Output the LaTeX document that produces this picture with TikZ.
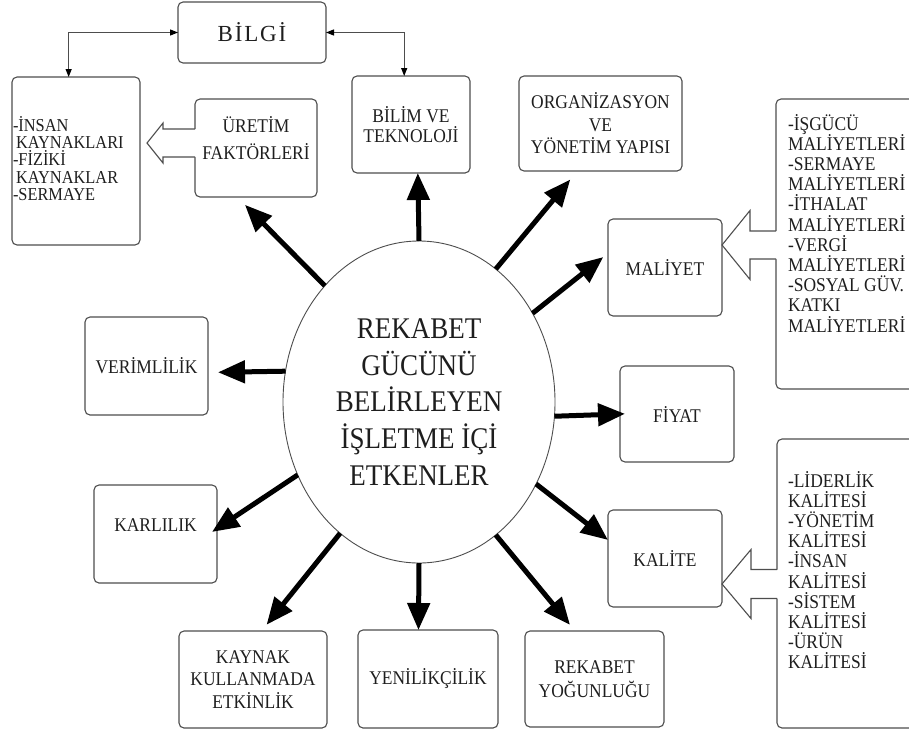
\documentclass[tikz,border=0pt]{standalone}
\usepackage{fontspec}
\setmainfont{Liberation Serif}[FakeStretch=0.9]
\newfontfamily\titlefont{Liberation Serif}[LetterSpace=8]
\usetikzlibrary{shapes.geometric, arrows.meta, calc}
\definecolor{edge}{HTML}{4D4D4D}
\definecolor{ink}{HTML}{1E1E1E}
\lineskiplimit=-30pt
\tikzstyle{box}=[draw=edge,line width=1.1pt,rounded corners=5pt,inner sep=0pt,outer sep=0pt,text=ink,align=center,font=\fontsize{19.4}{22.5}\selectfont]
\tikzstyle{lst}=[inner sep=0pt,outer sep=0pt,text=ink,align=left,anchor=north west,font=\fontsize{19.4}{20.2}\selectfont]
\tikzstyle{big}=[line width=5pt,-{Triangle[length=27pt,width=22pt]}]
\tikzstyle{link}=[draw=edge,line width=1.1pt,{Triangle[length=8pt,width=6pt,color=black]}-{Triangle[length=8pt,width=6pt,color=black]}]
\tikzstyle{hollow}=[draw=edge,line width=1.1pt,line join=miter]

\begin{document}
\begin{tikzpicture}[x=1pt,y=-1pt]
  \useasboundingbox (0,0) rectangle (909,734);
  \node[box,minimum width=148pt,minimum height=61pt,font=\titlefont\fontsize{23}{28}\selectfont] (bilgi) at (252,32.5) {BİLGİ};
  \node[box,minimum width=128pt,minimum height=168pt] (kaynaklar) at (76,161) {};
  \node[box,minimum width=122pt,minimum height=98pt,font=\fontsize{19.4}{27}\selectfont] (uretim) at (256,148) {ÜRETİM\\FAKTÖRLERİ\\[-6pt]\mbox{}};
  \node[box,minimum width=118pt,minimum height=97pt,font=\fontsize{19.4}{20}\selectfont] (bilim) at (411,124.5) {BİLİM VE\\TEKNOLOJİ};
  \node[box,minimum width=163pt,minimum height=95pt] (organ) at (600.5,123.5) {ORGANİZASYON\\VE\\YÖNETİM YAPISI};
  \node[box,minimum width=114pt,minimum height=97pt] (maliyet) at (665,267.5) {MALİYET};
  \node[box,minimum width=159pt,minimum height=290pt] (maliyetler) at (855.5,244) {};
  \node[box,minimum width=114pt,minimum height=96pt] (fiyat) at (677,414) {FİYAT};
  \node[box,minimum width=114pt,minimum height=97pt] (kalite) at (665,558.5) {KALİTE};
  \node[box,minimum width=158pt,minimum height=289pt] (kaliteler) at (856,583.5) {};
  \node[box,minimum width=139pt,minimum height=96pt,font=\fontsize{19.4}{24}\selectfont] (yogunluk) at (594.5,679) {REKABET\\YOĞUNLUĞU};
  \node[box,minimum width=140pt,minimum height=98pt] (yenilik) at (428,679) {YENİLİKÇİLİK};
  \node[box,minimum width=148pt,minimum height=97pt] (kaynak) at (253,679.5) {KAYNAK\\KULLANMADA\\ETKİNLİK};
  \node[box,minimum width=123pt,minimum height=98pt] (karlilik) at (155.5,534) {KARLILIK\\[-4pt]\mbox{}};
  \node[box,minimum width=123pt,minimum height=98pt] (verim) at (146.5,366) {VERİMLİLİK};
  \node[ellipse,draw=edge,line width=0.9pt,minimum width=272pt,minimum height=322pt,inner sep=0pt,outer sep=0pt,align=center,text=ink,font=\fontsize{30}{36.7}\selectfont] (rk) at (419,402) {REKABET\\GÜCÜNÜ\\BELİRLEYEN\\İŞLETME İÇİ\\ETKENLER};

  \node[lst,font=\fontsize{18.2}{17.4}\selectfont] (kaynaklist) at ($(kaynaklar.north west)+(1,39)$) {-İNSAN\\\hspace*{3pt}KAYNAKLARI\\-FİZİKİ\\\hspace*{3pt}KAYNAKLAR\\-SERMAYE};
  \node[lst] (maliyetlist) at ($(maliyetler.north west)+(12,15)$) {-İŞGÜCÜ\\MALİYETLERİ\\-SERMAYE\\MALİYETLERİ\\-İTHALAT\\MALİYETLERİ\\-VERGİ\\MALİYETLERİ\\-SOSYAL GÜV.\\KATKI\\MALİYETLERİ};
  \node[lst] (kalitelist) at ($(kaliteler.north west)+(11,32)$) {-LİDERLİK\\KALİTESİ\\-YÖNETİM\\KALİTESİ\\-İNSAN\\KALİTESİ\\-SİSTEM\\KALİTESİ\\-ÜRÜN\\KALİTESİ};

  \draw[link] (bilgi.west) -| (kaynaklar.95);
  \draw[link] (bilgi.east) -| (bilim.98);

  \coordinate (tm) at ($(maliyet.east)+(0,-22.5)$);
  \coordinate (tk) at ($(kalite.east)+(0,25.5)$);
  \coordinate (tu) at ($(kaynaklar.east)+(7,-18)$);
  \foreach \t/\s/\l/\a/\b in {tm/maliyetler/28/14/34.5, tk/kaliteler/29/14.5/34.5, tu/uretim/16/14/20} {
    \coordinate (e) at (\s.west |- \t);
    \fill[white] ($(e)+(1,-\a)$) -- ($(\t)+(\l,-\a)$) -- ($(\t)+(\l,-\b)$) -- (\t) -- ($(\t)+(\l,\b)$) -- ($(\t)+(\l,\a)$) -- ($(e)+(1,\a)$) -- cycle;
    \draw[hollow] ($(e)+(0,-\a)$) -- ($(\t)+(\l,-\a)$) -- ($(\t)+(\l,-\b)$) -- (\t) -- ($(\t)+(\l,\b)$) -- ($(\t)+(\l,\a)$) -- ($(e)+(0,\a)$);
  }

  \foreach \a/\b/\s in {90/bilim.-82/0, 129/uretim.249/11, 60/organ.-116/11, 38/maliyet.166/6, -6/fiyat.west/-5, -35/kalite.162/0, -60/yogunluk.112/8, -90/yenilik.101/0, -121/kaynak.80/8, -149/karlilik.5/-6, 167/verim.-6/10}
    \draw[big,shorten >=\s pt] (rk.\a) -- (\b);
\end{tikzpicture}
\end{document}
